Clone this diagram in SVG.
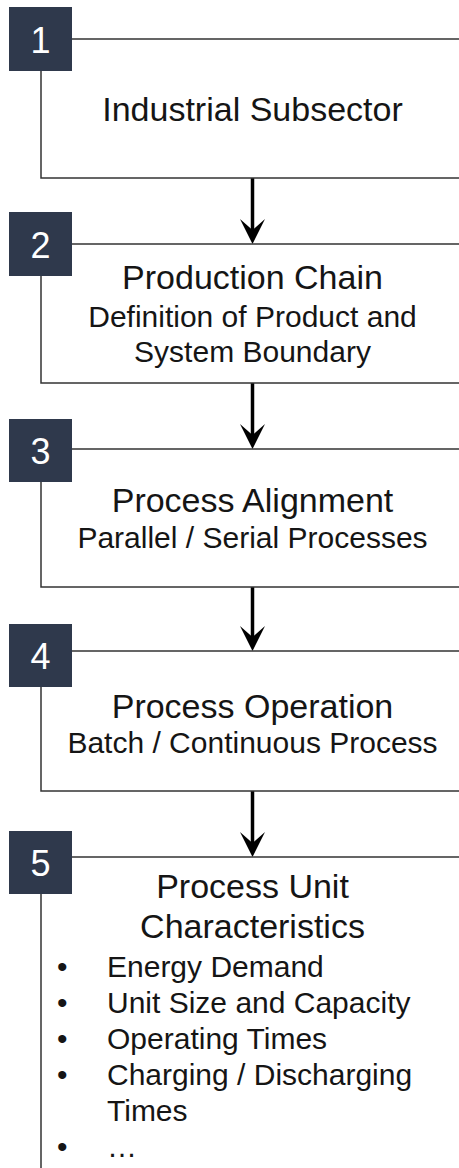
<svg xmlns="http://www.w3.org/2000/svg" width="459" height="1168" viewBox="0 0 459 1168">
  <style>
    .frame { fill: #ffffff; stroke: #333333; stroke-width: 1.5; }
    .badge { fill: #2f394c; }
    .num { font-family: "Liberation Sans", Arial, sans-serif; font-size: 36px; fill: #ffffff; text-anchor: middle; }
    .title { font-family: "Liberation Sans", Arial, sans-serif; font-size: 34px; fill: #151515; text-anchor: middle; }
    .sub { font-family: "Liberation Sans", Arial, sans-serif; font-size: 30px; fill: #151515; text-anchor: middle; }
    .item { font-family: "Liberation Sans", Arial, sans-serif; font-size: 30px; fill: #151515; }
    .link { stroke: #000000; stroke-width: 3.5; fill: none; }
    .head { fill: #000000; }
  </style>
  <defs>
    <path id="arrowhead" class="head" d="M0,0 L-12.5,-25 L0,-14 L12.5,-25 Z"/>
  </defs>

  <rect width="459" height="1168" fill="#ffffff"/>

  <!-- connectors between the stages -->
  <g id="connectors">
    <line class="link" x1="252.5" y1="178" x2="252.5" y2="230"/>
    <use href="#arrowhead" x="252.5" y="244"/>
    <line class="link" x1="252.5" y1="383" x2="252.5" y2="435"/>
    <use href="#arrowhead" x="252.5" y="449"/>
    <line class="link" x1="252.5" y1="587" x2="252.5" y2="637"/>
    <use href="#arrowhead" x="252.5" y="651"/>
    <line class="link" x1="252.5" y1="791" x2="252.5" y2="843"/>
    <use href="#arrowhead" x="252.5" y="857"/>
  </g>

  <g id="stage1">
    <rect class="frame" x="41" y="39" width="440" height="139"/>
    <rect class="badge" x="9" y="7" width="63" height="64"/>
    <text class="num" x="40.5" y="53">1</text>
    <text class="title" x="252.5" y="121">Industrial Subsector</text>
  </g>

  <g id="stage2">
    <rect class="frame" x="41" y="244" width="440" height="139"/>
    <rect class="badge" x="9" y="212" width="63" height="64"/>
    <text class="num" x="40.5" y="258">2</text>
    <text class="title" x="252.5" y="289">Production Chain</text>
    <text class="sub" x="252.5" y="327">Definition of Product and</text>
    <text class="sub" x="252.5" y="362">System Boundary</text>
  </g>

  <g id="stage3">
    <rect class="frame" x="41" y="449" width="440" height="138"/>
    <rect class="badge" x="9" y="419" width="63" height="63"/>
    <text class="num" x="40.5" y="464">3</text>
    <text class="title" x="252.5" y="512">Process Alignment</text>
    <text class="sub" x="252.5" y="548">Parallel / Serial Processes</text>
  </g>

  <g id="stage4">
    <rect class="frame" x="41" y="651" width="440" height="140"/>
    <rect class="badge" x="9" y="624" width="63" height="63"/>
    <text class="num" x="40.5" y="669">4</text>
    <text class="title" x="252.5" y="718">Process Operation</text>
    <text class="sub" x="252.5" y="753">Batch / Continuous Process</text>
  </g>

  <g id="stage5">
    <rect class="frame" x="41" y="857" width="440" height="340"/>
    <rect class="badge" x="9" y="831" width="63" height="63"/>
    <text class="num" x="40.5" y="876">5</text>
    <text class="title" x="252.5" y="898">Process Unit</text>
    <text class="title" x="252.5" y="938">Characteristics</text>
    <g class="item">
      <text x="57" y="977">•</text>
      <text x="107" y="977">Energy Demand</text>
      <text x="57" y="1013">•</text>
      <text x="107" y="1013">Unit Size and Capacity</text>
      <text x="57" y="1049">•</text>
      <text x="107" y="1049">Operating Times</text>
      <text x="57" y="1085">•</text>
      <text x="107" y="1085">Charging / Discharging</text>
      <text x="107" y="1121">Times</text>
      <text x="57" y="1157">•</text>
      <text x="107" y="1157">…</text>
    </g>
  </g>
</svg>
